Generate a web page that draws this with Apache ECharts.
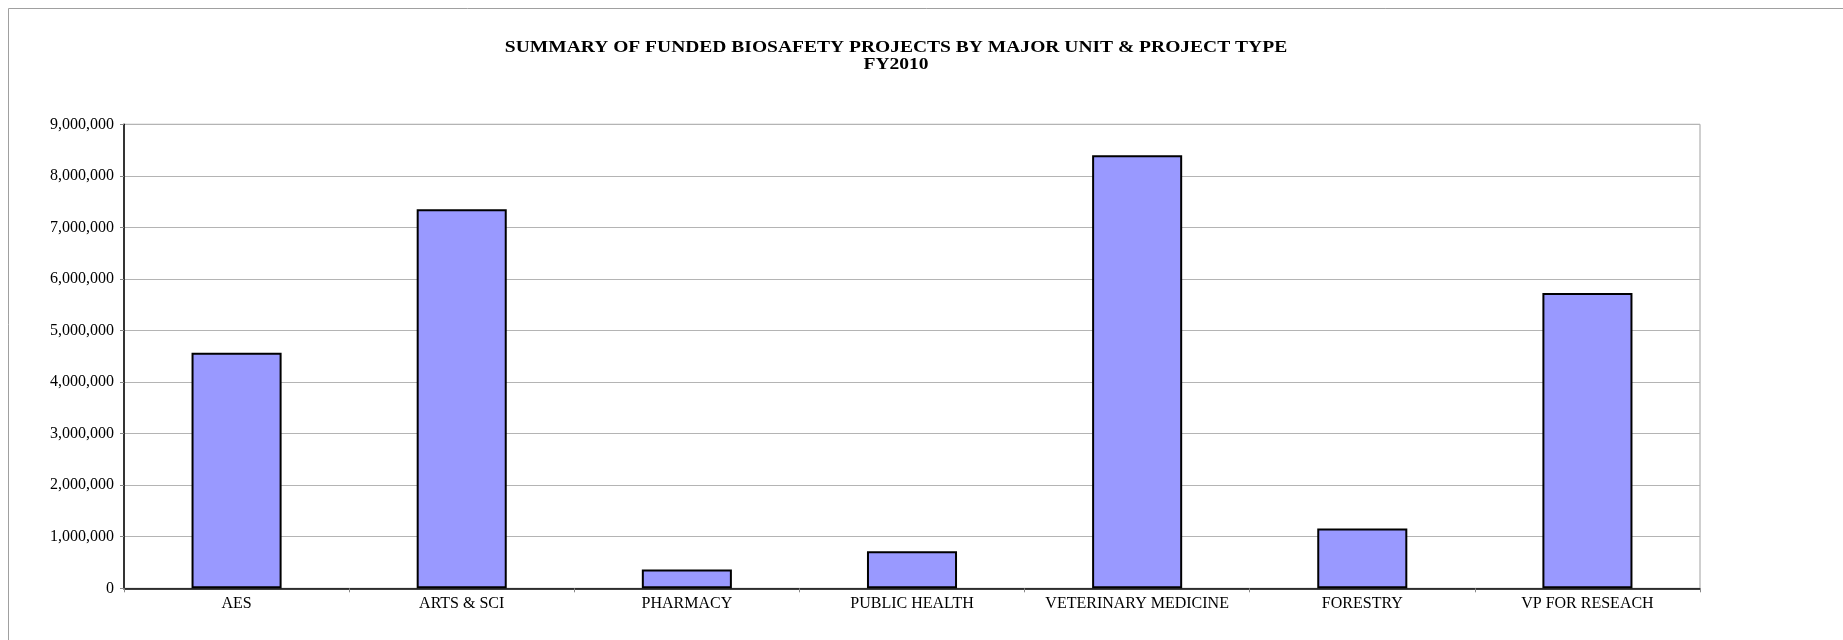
<!DOCTYPE html>
<html>
<head>
<meta charset="utf-8">
<title>Funded Biosafety Projects FY2010</title>
<script src="https://cdn.jsdelivr.net/npm/echarts@6/dist/echarts.min.js"></script>
<style>
html, body { margin: 0; padding: 0; background: #fff; }
#chart { width: 1843px; height: 640px; }
</style>
</head>
<body>
<div id="chart"></div>
<script>
// data
var units = ['AES', 'ARTS & SCI', 'PHARMACY', 'PUBLIC HEALTH', 'VETERINARY MEDICINE', 'FORESTRY', 'VP FOR RESEACH'];
var funding = [4570000, 7350000, 365000, 720000, 8400000, 1160000, 5730000];
var yMin = 0;
var yMax = 9000000;
var yStep = 1000000;
var titleLines = ['SUMMARY OF FUNDED BIOSAFETY PROJECTS BY MAJOR UNIT & PROJECT TYPE', 'FY2010'];

var serif = '"Liberation Serif", "Times New Roman", serif';

function fmt(v) {
    return String(v).replace(/\B(?=(\d{3})+(?!\d))/g, ',');
}

var chart = echarts.init(document.getElementById('chart'));
var option = {
    backgroundColor: '#fff',
    animation: false,
    graphic: [{
        type: 'rect',
        shape: { x: 8.5, y: 8.5, width: 1900, height: 700 },
        style: { fill: 'none', stroke: '#a0a0a0', lineWidth: 1 },
        silent: true
    }, {
        // title text is stretched sideways like the original picture
        type: 'text',
        x: 896,
        y: 39,
        scaleX: 1.22,
        style: {
            text: titleLines.join('\n'),
            align: 'center',
            verticalAlign: 'top',
            font: 'bold 16px ' + serif,
            lineHeight: 17,
            fill: '#000'
        },
        silent: true
    }],
    grid: {
        left: 124,
        right: 143,
        top: 124.3,
        bottom: 51.7,
        show: true,
        borderColor: '#a0a0a0',
        borderWidth: 1
    },
    xAxis: {
        type: 'category',
        data: units,
        axisLine: { lineStyle: { color: '#000', width: 1.5 } },
        axisTick: { show: true, length: 4, lineStyle: { color: '#888' } },
        axisLabel: {
            fontFamily: serif,
            fontSize: 16,
            color: '#000',
            margin: 7,
            interval: 0
        },
        splitLine: { show: false }
    },
    yAxis: {
        type: 'value',
        min: yMin,
        max: yMax,
        interval: yStep,
        axisLine: { show: true, lineStyle: { color: '#000', width: 1.5 } },
        axisTick: { show: true, length: 4, lineStyle: { color: '#888' } },
        axisLabel: {
            fontFamily: serif,
            fontSize: 16,
            color: '#000',
            margin: 10,
            formatter: fmt
        },
        splitLine: { show: true, lineStyle: { color: '#b4b4b4', width: 1 } }
    },
    series: [{
        type: 'bar',
        data: funding,
        barWidth: '40%',
        itemStyle: {
            color: '#9999ff',
            borderColor: '#000',
            borderWidth: 2
        }
    }]
};
chart.setOption(option);
</script>
</body>
</html>
